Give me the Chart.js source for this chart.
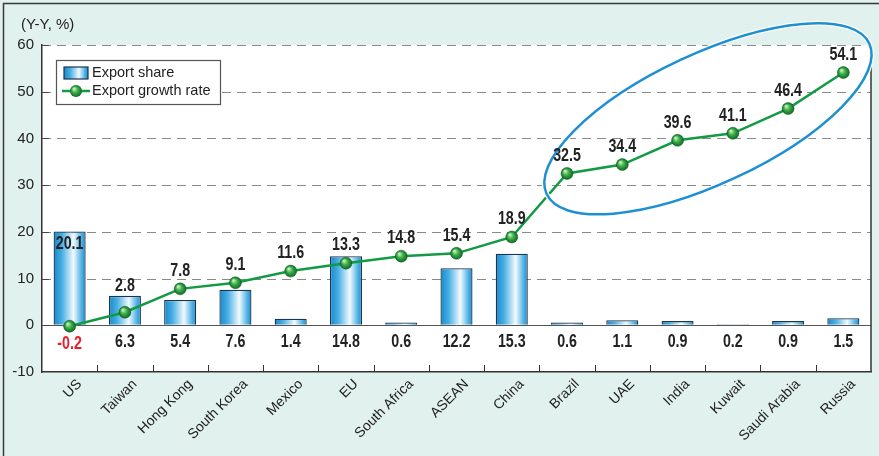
<!DOCTYPE html>
<html>
<head>
<meta charset="utf-8">
<script src="https://cdn.jsdelivr.net/npm/chart.js@4"></script>
<style>
  html, body { margin: 0; padding: 0; background: #e1f1ed; }
  canvas { display: block; }
</style>
</head>
<body>
<canvas id="chart" width="879" height="456"></canvas>
<script>
// chart data
var categories = ['US', 'Taiwan', 'Hong Kong', 'South Korea', 'Mexico', 'EU', 'South Africa', 'ASEAN', 'China', 'Brazil', 'UAE', 'India', 'Kuwait', 'Saudi Arabia', 'Russia'];
var exportShare = [20.1, 6.3, 5.4, 7.6, 1.4, 14.8, 0.6, 12.2, 15.3, 0.6, 1.1, 0.9, 0.2, 0.9, 1.5];
var growthRate = [-0.2, 2.8, 7.8, 9.1, 11.6, 13.3, 14.8, 15.4, 18.9, 32.5, 34.4, 39.6, 41.1, 46.4, 54.1];
var yTicks = [-10, 0, 10, 20, 30, 40, 50, 60];
var yTitle = '(Y-Y, %)';
var legendLabels = ['Export share', 'Export growth rate'];

var BAR_PCT = 0.58;
var lineGreen = '#139a45';
var fontMain = '"Liberation Sans", Arial, sans-serif';

function barGradient(ctx, x0, x1) {
    var g = ctx.createLinearGradient(x0, 0, x1, 0);
    g.addColorStop(0, '#1889cc');
    g.addColorStop(0.25, '#45ade2');
    g.addColorStop(0.62, '#f2fafe');
    g.addColorStop(0.85, '#5cb8e7');
    g.addColorStop(1, '#1889cc');
    return g;
}

function ballGradient(ctx, x, y, r) {
    var g = ctx.createRadialGradient(x - r * 0.35, y - r * 0.4, r * 0.1, x, y, r);
    g.addColorStop(0, '#bff0b8');
    g.addColorStop(0.45, '#3fae4c');
    g.addColorStop(1, '#0f6a25');
    return g;
}

function barWidth(chart) {
    var xs = chart.scales.x;
    return (xs.getPixelForValue(1) - xs.getPixelForValue(0)) * BAR_PCT;
}

// bold narrow numbers: squeeze a bold face sideways
function numText(ctx, txt, x, y, color) {
    ctx.save();
    ctx.translate(x, y);
    ctx.scale(0.75, 1);
    ctx.fillStyle = color;
    ctx.font = 'bold 19px ' + fontMain;
    ctx.textAlign = 'center';
    ctx.textBaseline = 'middle';
    ctx.fillText(txt, 0, 0);
    ctx.restore();
}

// background, grid, borders, labels, legend, ellipse
var decorPlugin = {
    id: 'decor',
    beforeDraw: function(chart) {
        var ctx = chart.ctx;
        var a = chart.chartArea;
        ctx.save();
        ctx.fillStyle = '#e1f1ed';
        ctx.fillRect(0, 0, chart.width, chart.height);
        ctx.strokeStyle = '#3a3a3a';
        ctx.lineWidth = 1.5;
        ctx.strokeRect(3.5, 3.5, chart.width + 10, chart.height + 10);
        ctx.fillStyle = '#ffffff';
        ctx.fillRect(a.left, a.top, a.right - a.left, a.bottom - a.top);
        ctx.restore();
    },
    beforeDatasetsDraw: function(chart) {
        var ctx = chart.ctx;
        var a = chart.chartArea;
        var ys = chart.scales.y;
        var xs = chart.scales.x;
        ctx.save();
        ctx.lineWidth = 1;
        yTicks.forEach(function(v) {
            if (v === -10) return;
            var y = Math.round(ys.getPixelForValue(v)) + 0.5;
            ctx.strokeStyle = v === 0 ? '#555' : '#8a8a8a';
            ctx.setLineDash(v === 0 ? [] : [9, 6]);
            ctx.beginPath();
            ctx.moveTo(a.left, y);
            ctx.lineTo(a.right, y);
            ctx.stroke();
            // inward tick on the y axis
            ctx.setLineDash([]);
            ctx.strokeStyle = '#444';
            ctx.beginPath();
            ctx.moveTo(a.left, y);
            ctx.lineTo(a.left + 7, y);
            ctx.stroke();
        });
        ctx.setLineDash([]);
        // right border
        ctx.strokeStyle = '#333';
        ctx.lineWidth = 1.5;
        ctx.beginPath();
        ctx.moveTo(a.right, a.top);
        ctx.lineTo(a.right, a.bottom);
        ctx.stroke();
        // inward tick marks between categories
        ctx.lineWidth = 1;
        for (var i = 1; i < categories.length; i++) {
            var x = Math.round((xs.getPixelForValue(i - 1) + xs.getPixelForValue(i)) / 2) + 0.5;
            ctx.beginPath();
            ctx.moveTo(x, a.bottom);
            ctx.lineTo(x, a.bottom - 7);
            ctx.stroke();
        }
        ctx.restore();
    },
    afterDatasetsDraw: function(chart) {
        var ctx = chart.ctx;
        var xs = chart.scales.x;
        var ys = chart.scales.y;
        var zero = ys.getPixelForValue(0);
        ctx.save();

        // highlight ellipse round the Brazil..Russia points
        var cx = xs.getPixelForValue(11.55);
        var cy = ys.getPixelForValue(44.2);
        ctx.lineWidth = 5;
        ctx.strokeStyle = '#ffffff';
        ctx.beginPath();
        ctx.ellipse(cx, cy, 178, 65, -25 * Math.PI / 180, 0, Math.PI * 2);
        ctx.stroke();
        ctx.lineWidth = 2.5;
        ctx.strokeStyle = '#1e90d2';
        ctx.stroke();

        categories.forEach(function(c, i) {
            var x = xs.getPixelForValue(i);
            var gy = ys.getPixelForValue(growthRate[i]);
            var by = ys.getPixelForValue(exportShare[i]);
            if (growthRate[i] < 0) {
                numText(ctx, growthRate[i].toFixed(1), x, zero + 18, '#e8202a');
                numText(ctx, exportShare[i].toFixed(1), x, by + 12, '#222');
            } else {
                numText(ctx, growthRate[i].toFixed(1), x, Math.min(gy - 18, by - 10), '#222');
                numText(ctx, exportShare[i].toFixed(1), x, zero + 16, '#222');
            }
        });
        ctx.restore();
    },
    afterDraw: function(chart) {
        var ctx = chart.ctx;
        var a = chart.chartArea;
        ctx.save();
        // axis title
        ctx.fillStyle = '#222';
        ctx.font = '15px ' + fontMain;
        ctx.textBaseline = 'middle';
        ctx.textAlign = 'left';
        ctx.fillText(yTitle, 21, 25);

        // legend box
        var lx = a.left + 14, ly = a.top + 15, lw = 164, lh = 44;
        ctx.fillStyle = '#fff';
        ctx.fillRect(lx, ly, lw, lh);
        ctx.strokeStyle = '#555';
        ctx.lineWidth = 1.2;
        ctx.strokeRect(lx + 0.5, ly + 0.5, lw, lh);
        ctx.fillStyle = barGradient(ctx, lx + 8, lx + 32);
        ctx.fillRect(lx + 8, ly + 7, 24, 12);
        ctx.strokeStyle = '#1b3550';
        ctx.lineWidth = 1.2;
        ctx.strokeRect(lx + 8, ly + 7, 24, 12);
        ctx.strokeStyle = lineGreen;
        ctx.lineWidth = 2.5;
        ctx.beginPath();
        ctx.moveTo(lx + 6, ly + 31);
        ctx.lineTo(lx + 34, ly + 31);
        ctx.stroke();
        ctx.fillStyle = ballGradient(ctx, lx + 20, ly + 31, 6);
        ctx.beginPath();
        ctx.arc(lx + 20, ly + 31, 6, 0, Math.PI * 2);
        ctx.fill();
        ctx.fillStyle = '#222';
        ctx.font = '14.5px ' + fontMain;
        ctx.fillText(legendLabels[0], lx + 36, ly + 13);
        ctx.fillText(legendLabels[1], lx + 36, ly + 31);
        ctx.restore();
    }
};

new Chart(document.getElementById('chart'), {
    data: {
        labels: categories,
        datasets: [
            {
                type: 'line',
                label: legendLabels[1],
                data: growthRate,
                order: 0,
                borderColor: lineGreen,
                borderWidth: 2.5,
                tension: 0,
                pointRadius: 6,
                pointBorderWidth: 0.5,
                pointBorderColor: '#0d5e20',
                pointBackgroundColor: function(c) {
                    var chart = c.chart;
                    if (!chart.chartArea) return '#2f9e3e';
                    var x = chart.scales.x.getPixelForValue(c.dataIndex);
                    var y = chart.scales.y.getPixelForValue(growthRate[c.dataIndex]);
                    return ballGradient(chart.ctx, x, y, 6);
                }
            },
            {
                type: 'bar',
                label: legendLabels[0],
                data: exportShare,
                order: 1,
                barPercentage: BAR_PCT,
                categoryPercentage: 1,
                borderColor: '#1b3550',
                borderWidth: 1.3,
                borderSkipped: 'bottom',
                backgroundColor: function(c) {
                    var chart = c.chart;
                    if (!chart.chartArea) return '#45ade2';
                    var x = chart.scales.x.getPixelForValue(c.dataIndex);
                    var w = barWidth(chart) / 2;
                    return barGradient(chart.ctx, x - w, x + w);
                }
            }
        ]
    },
    options: {
        responsive: false,
        animation: false,
        devicePixelRatio: 1,
        layout: { padding: { left: 0, top: 45, right: 8, bottom: 0 } },
        plugins: {
            legend: { display: false },
            tooltip: { enabled: false }
        },
        scales: {
            x: {
                offset: true,
                grid: { display: true, drawOnChartArea: false, drawTicks: false },
                border: { display: true, color: '#333', width: 1.5 },
                ticks: {
                    color: '#222',
                    font: { family: fontMain, size: 14 },
                    minRotation: 45,
                    maxRotation: 45,
                    autoSkip: false,
                    padding: 4,
                    labelOffset: 10
                },
                afterFit: function(s) { s.height = 84; }
            },
            y: {
                min: -10,
                max: 60,
                afterBuildTicks: function(s) {
                    s.ticks = yTicks.map(function(v) { return { value: v }; });
                },
                grid: { drawOnChartArea: false, drawTicks: false },
                border: { display: true, color: '#333', width: 1.5 },
                ticks: {
                    color: '#222',
                    font: { family: fontMain, size: 15 },
                    padding: 8
                },
                afterFit: function(s) { s.width = 42; }
            }
        }
    },
    plugins: [decorPlugin]
});
</script>
</body>
</html>
